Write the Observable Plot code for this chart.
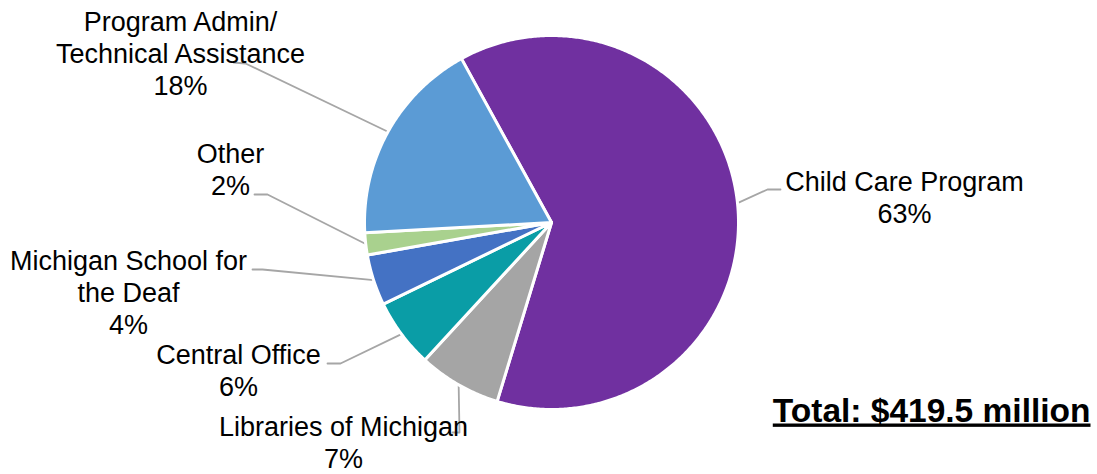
<!DOCTYPE html>
<html><head><meta charset="utf-8">
<script src="https://cdn.jsdelivr.net/npm/d3@7"></script>
<script src="https://cdn.jsdelivr.net/npm/@observablehq/plot@0.6"></script>
<style>
html,body{margin:0;padding:0;background:#fff;}
</style>
</head><body><div id="chart"></div>
<script>
// ---- data ($ millions) ----
const categories = ["Child Care Program", "Libraries of Michigan", "Central Office", "Michigan School for the Deaf", "Other", "Program Admin/ Technical Assistance"];
const values = [263, 30, 25, 18.5, 8, 75];
const colors = ["#7030A0", "#A5A5A5", "#0A9DA6", "#4472C4", "#A9D18E", "#5B9BD5"];
const labelLines = [["Child Care Program"], ["Libraries of Michigan"], ["Central Office"], ["Michigan School for", "the Deaf"], ["Other"], ["Program Admin/", "Technical Assistance"]];
const totalLabel = "Total: $419.5 million";

// ---- layout (label placement, as positioned in the original) ----
const W = 1097, H = 474, cx = 551, cy = 222, R = 187;
const startAngleDeg = -28.8;
const labelX = [904, 343, 238, 128, 230, 180];
const labelY = [222, 467, 395, 333, 194, 94];
const leaderStartX = [780, 452, 327, 252, 254, 233];
const leaderStartY = [189, 432, 363, 269, 194, 62];
const leaderElbowX = [767, 459, 340, 262, 267, 245];
const leaderElbowY = [189, 432, 363, 269, 194, 63];

const total = d3.sum(values);
const data = categories.map((c, i) => ({cat: c, value: values[i], i}));
const arcs = d3.pie().sort(null).value(d => d.value)
  .startAngle(startAngleDeg * Math.PI / 180)
  .endAngle(startAngleDeg * Math.PI / 180 + 2 * Math.PI)(data);

const px = a => cx + R * Math.sin(a);
const py = a => cy - R * Math.cos(a);

const slicePts = [];
arcs.forEach(a => {
  slicePts.push({cat: a.data.cat, x: cx, y: cy});
  const n = Math.max(2, Math.ceil((a.endAngle - a.startAngle) / (Math.PI / 360)));
  for (let k = 0; k <= n; k++) {
    const t = a.startAngle + (a.endAngle - a.startAngle) * k / n;
    slicePts.push({cat: a.data.cat, x: px(t), y: py(t)});
  }
});

const leaderPts = [];
arcs.forEach((a, i) => {
  const mid = (a.startAngle + a.endAngle) / 2;
  leaderPts.push({i, x: leaderStartX[i], y: leaderStartY[i]});
  leaderPts.push({i, x: leaderElbowX[i], y: leaderElbowY[i]});
  leaderPts.push({i, x: px(mid), y: py(mid)});
});

const labels = arcs.map((a, i) => ({
  text: labelLines[i].join("\n") + "\n" + Math.round(a.data.value / total * 100) + "%",
  x: labelX[i], y: labelY[i]
}));

const svg = Plot.plot({
  width: W, height: H,
  margin: 0,
  style: {fontFamily: "'Liberation Sans', Arial, sans-serif", background: "#fff", color: "#000"},
  x: {domain: [0, W], range: [0, W], axis: null},
  y: {domain: [0, H], range: [0, H], axis: null},
  color: {domain: categories, range: colors},
  marks: [
    Plot.line(leaderPts, {x: "x", y: "y", z: "i", stroke: "#A6A6A6", strokeWidth: 1.8}),
    Plot.line(slicePts, {x: "x", y: "y", z: "cat", fill: "cat", stroke: "white", strokeWidth: 3, strokeLinejoin: "round", curve: "linear-closed"}),
    Plot.text(labels, {x: "x", y: "y", text: "text", textAnchor: "middle", lineAnchor: "bottom", lineHeight: 1.185, fontSize: 27, fill: "#000"}),
    Plot.text([totalLabel], {x: 1090, y: 421, text: d => d, textAnchor: "end", lineAnchor: "bottom", fontSize: 33.5, fontWeight: "bold", fill: "#000"})
  ]
});

d3.select(svg).selectAll("text").filter(function () { return this.textContent === totalLabel; })
  .style("text-decoration", "underline")
  .style("text-decoration-thickness", "3px")
  .style("text-underline-offset", "9px");

document.getElementById("chart").appendChild(svg);
</script>
</body></html>
